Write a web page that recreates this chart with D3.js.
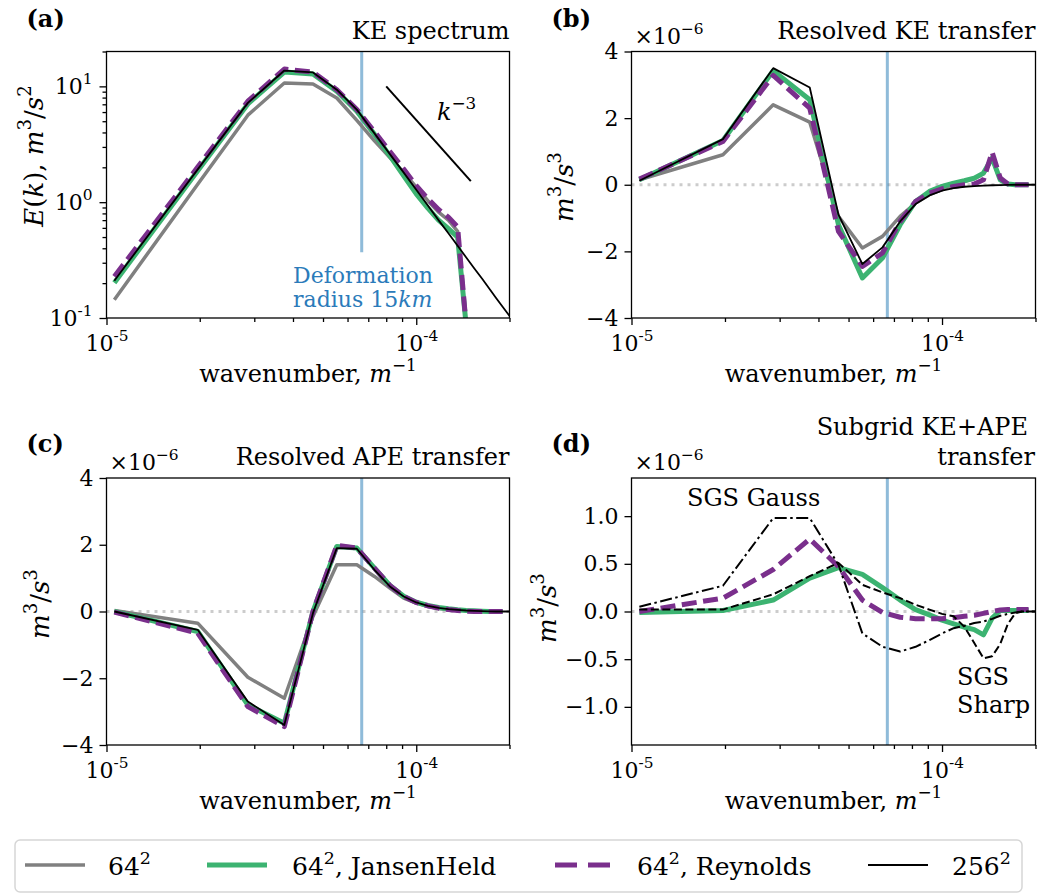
<!DOCTYPE html>
<html>
<head>
<meta charset="utf-8">
<script src="https://cdn.jsdelivr.net/npm/d3@7/dist/d3.min.js"></script>
<style>
  body { margin: 0; background: #fff; }
  svg, svg text { font-family: 'DejaVu Serif'; }
</style>
</head>
<body>
<svg id="fig" width="1042" height="894" font-family="DejaVu Serif"></svg>
<script>
// wavenumber bins, m^-1 (same bins for every panel)
var k = [1.06e-5, 1.97e-5, 2.86e-5, 3.75e-5, 4.64e-5, 5.54e-5, 6.43e-5, 7.33e-5, 8.22e-5, 9.11e-5,
         1.00e-4, 1.09e-4, 1.18e-4, 1.27e-4, 1.36e-4, 1.45e-4, 1.54e-4, 1.63e-4, 1.72e-4, 1.81e-4,
         1.90e-4, 1.99e-4, 2.08e-4];

// (a) KE spectrum, m^3/s^2
var keLow  = [0.144, 1.43, 5.64, 10.7, 10.5, 7.94, 5.08, 3.38, 2.43, 1.81, 1.35, 1.03, 0.82, 0.70, 0.56, 0.08, 0.001];
var keJH   = [0.202, 1.87, 7.06, 13.3, 12.8, 9.06, 6.10, 3.85, 2.51, 1.69, 1.18, 0.89, 0.70, 0.59, 0.50, 0.085, 0.001];
var keRey  = [0.228, 2.01, 7.44, 14.1, 13.3, 9.36, 6.31, 4.06, 2.74, 1.93, 1.39, 1.07, 0.865, 0.743, 0.61, 0.085, 0.001];
var keHigh = [0.21, 1.92, 7.2, 13.7, 13.2, 9.36, 6.3, 3.93, 2.6, 1.8, 1.28, 0.936, 0.70, 0.54, 0.42, 0.333,
              0.268, 0.219, 0.18, 0.149, 0.125, 0.106, 0.093];
// k^-3 reference segment
var slopeK = [8.0e-5, 1.5e-4];
var slopeE = [10, 1.52];
// deformation radius 15 km
var kDeform = 1 / 15000;

// (b) resolved KE transfer, 1e-6 m^3/s^3
var tkeLow  = [0.15, 0.9, 2.4, 1.88, -0.95, -1.9, -1.55, -0.95, -0.55, -0.3, -0.15, 0.02, 0.1, 0.18, 0.33, 0.78, 0.14, 0.02, 0, 0, 0];
var tkeJH   = [0.15, 1.33, 3.42, 2.55, -1.2, -2.8, -2.2, -1.2, -0.5, -0.2, -0.05, 0.05, 0.12, 0.2, 0.35, 0.8, 0.15, 0.02, 0, 0, 0];
var tkeRey  = [0.17, 1.3, 3.28, 2.3, -1.4, -2.45, -2.05, -1.1, -0.5, -0.25, -0.12, -0.05, 0.0, 0.02, 0.15, 0.98, 0.2, 0.02, 0, 0, 0];
var tkeHigh = [0.12, 1.37, 3.5, 2.92, -0.9, -2.38, -1.88, -1.1, -0.58, -0.32, -0.18, -0.1, -0.06, -0.04, -0.025,
               -0.015, -0.01, -0.005, 0, 0, 0, 0, 0];

// (c) resolved APE transfer, 1e-6 m^3/s^3
var tapeLow  = [0.03, -0.35, -1.97, -2.6, -0.15, 1.4, 1.4, 1.05, 0.7, 0.4, 0.25, 0.15, 0.09, 0.06, 0.04, 0.03, 0.02, 0.01, 0, 0, 0];
var tapeJH   = [0.0, -0.6, -2.8, -3.35, 0.0, 1.95, 1.9, 1.3, 0.78, 0.46, 0.28, 0.18, 0.12, 0.08, 0.05, 0.03, 0.02, 0.01, 0, 0, 0];
var tapeRey  = [-0.02, -0.65, -2.85, -3.45, 0.0, 1.98, 1.9, 1.3, 0.78, 0.45, 0.27, 0.17, 0.1, 0.06, 0.03, 0.01, 0, 0, 0, 0, 0];
var tapeHigh = [0.0, -0.55, -2.7, -3.4, -0.05, 1.9, 1.88, 1.25, 0.75, 0.45, 0.27, 0.17, 0.11, 0.07, 0.05,
                0.03, 0.02, 0.01, 0.005, 0, 0, 0, 0];

// (d) subgrid KE+APE transfer, 1e-6 m^3/s^3
var sgsJH    = [-0.01, 0.01, 0.12, 0.35, 0.46, 0.39, 0.25, 0.12, 0.02, -0.035, -0.09, -0.13, -0.165, -0.19, -0.245, -0.07, 0.01, 0.01, 0.01, 0.01, 0.01];
var sgsRey   = [0.0, 0.14, 0.44, 0.76, 0.47, 0.12, -0.01, -0.06, -0.075, -0.077, -0.075, -0.065, -0.05, -0.04, -0.02, 0.0, 0.015, 0.02, 0.02, 0.02, 0.02];
var sgsGauss = [0.05, 0.27, 0.98, 0.98, 0.49, -0.23, -0.37, -0.42, -0.37, -0.3, -0.23, -0.175, -0.15, -0.12, -0.105,
                -0.077, -0.045, -0.025, -0.01, 0, 0, 0, 0];
var sgsSharp = [0.02, 0.02, 0.18, 0.37, 0.51, 0.28, 0.2, 0.14, 0.07, 0.02, -0.025, -0.05, -0.16, -0.33, -0.49,
                -0.47, -0.34, -0.13, -0.02, 0, 0, 0, 0];

// tick values
var xMajor = [1e-5, 1e-4];
var xMinor = [2e-5, 3e-5, 4e-5, 5e-5, 6e-5, 7e-5, 8e-5, 9e-5, 2e-4];
var keMajor = [0.1, 1, 10];
var keMinor = [0.2, 0.3, 0.4, 0.5, 0.6, 0.7, 0.8, 0.9, 2, 3, 4, 5, 6, 7, 8, 9, 20];
var transferTicks = [-4, -2, 0, 2, 4];
var sgsTicks = [-1.0, -0.5, 0.0, 0.5, 1.0];

// legend
var legendLabels = ['64', '64', '64', '256'];
var legendSuffix = ['', ', JansenHeld', ', Reynolds', ''];

// line styles
var st = {
    low:   { color: '#808080', width: 3.5 },
    jh:    { color: '#3cb371', width: 5 },
    rey:   { color: '#7a2f8c', width: 5, dash: '15,6.5' },
    high:  { color: '#000000', width: 1.8 },
    gauss: { color: '#000000', width: 2, dash: '12,3.5,2.5,3.5' },
    sharp: { color: '#000000', width: 2, dash: '8,3.5' }
};

var FONT = 'DejaVu Serif';
var svg = d3.select('#fig');
var FS_TICK = 22, FS_LAB = 24, FS_YLAB = 26;

// text with italic / superscript pieces
function rich(sel, parts, fs) {
    var up = 0;
    sel.attr('font-family', FONT);
    parts.forEach(function(p) {
        var lvl = p.sup ? 1 : 0;
        var ts = sel.append('tspan').text(p.t);
        if (lvl !== up) { ts.attr('dy', (lvl ? -0.45 : 0.45) * fs); up = lvl; }
        if (p.sup) ts.attr('font-size', 0.7 * fs);
        if (p.i) ts.attr('font-style', 'italic');
    });
}

function styleAxis(g) {
    g.select('.domain').remove();
    g.attr('font-family', FONT).attr('font-size', FS_TICK);
    g.selectAll('.tick line').attr('stroke', '#000').attr('stroke-width', 1.3);
    g.selectAll('.tick text').attr('fill', '#000').attr('font-family', FONT);
}

function logText(g) {
    g.selectAll('.tick text').each(function(d) {
        var t = d3.select(this);
        t.text(null);
        rich(t, [{ t: '10' }, { t: String(Math.round(Math.log10(d))), sup: true }], FS_TICK);
    });
}

function label(g, x, y, size) {
    return g.append('text').attr('x', x).attr('y', y)
        .attr('font-size', size).attr('font-family', FONT);
}

function panel(p) {
    var x = d3.scaleLog().domain([1e-5, 2e-4]).range([p.left, p.right]);
    var y = p.log ? d3.scaleLog().domain(p.yDomain).range([p.bottom, p.top])
                  : d3.scaleLinear().domain(p.yDomain).range([p.bottom, p.top]);
    var g = svg.append('g');

    svg.append('clipPath').attr('id', 'clip' + p.id)
        .append('rect')
        .attr('x', p.left).attr('y', p.top)
        .attr('width', p.right - p.left).attr('height', p.bottom - p.top);

    var plot = g.append('g').attr('clip-path', 'url(#clip' + p.id + ')');

    if (!p.log) {
        plot.append('line')
            .attr('x1', p.left).attr('x2', p.right)
            .attr('y1', y(0)).attr('y2', y(0))
            .attr('stroke', '#cccccc').attr('stroke-width', 3)
            .attr('stroke-dasharray', '3,5');
    }

    // deformation radius
    plot.append('line')
        .attr('x1', x(kDeform)).attr('x2', x(kDeform))
        .attr('y1', p.vlineBottom != null ? y(p.vlineBottom) : p.bottom)
        .attr('y2', p.top)
        .attr('stroke', '#1f77b4').attr('stroke-opacity', 0.5).attr('stroke-width', 3);

    var line = d3.line()
        .defined(function(d) { return d[1] != null; })
        .x(function(d) { return x(d[0]); })
        .y(function(d) { return y(d[1]); });

    p.series.forEach(function(s) {
        var pts = s.v.map(function(v, i) { return [k[i], v]; });
        plot.append('path')
            .attr('d', line(pts))
            .attr('fill', 'none')
            .attr('stroke', s.s.color)
            .attr('stroke-width', s.s.width)
            .attr('stroke-dasharray', s.s.dash || null)
            .attr('stroke-linejoin', 'round');
    });

    if (p.extra) p.extra(plot, x, y);

    // frame
    g.append('rect')
        .attr('x', p.left).attr('y', p.top)
        .attr('width', p.right - p.left).attr('height', p.bottom - p.top)
        .attr('fill', 'none').attr('stroke', '#000').attr('stroke-width', 1.3);

    // x axis
    g.append('g').attr('transform', 'translate(0,' + p.bottom + ')')
        .call(d3.axisBottom(x).tickValues(xMajor).tickSize(7).tickPadding(10))
        .call(styleAxis).call(logText);
    g.append('g').attr('transform', 'translate(0,' + p.bottom + ')')
        .call(d3.axisBottom(x).tickValues(xMinor).tickSize(4).tickFormat(''))
        .call(styleAxis);

    // y axis
    if (p.log) {
        g.append('g').attr('transform', 'translate(' + p.left + ',0)')
            .call(d3.axisLeft(y).tickValues(keMajor).tickSize(7).tickPadding(7))
            .call(styleAxis).call(logText);
        g.append('g').attr('transform', 'translate(' + p.left + ',0)')
            .call(d3.axisLeft(y).tickValues(keMinor).tickSize(4).tickFormat(''))
            .call(styleAxis);
    } else {
        g.append('g').attr('transform', 'translate(' + p.left + ',0)')
            .call(d3.axisLeft(y).tickValues(p.yTicks).tickSize(7).tickPadding(6).tickFormat(d3.format(p.fmt)))
            .call(styleAxis);
        // offset text
        var off = label(g, p.left + 3, p.top - 8, FS_TICK);
        rich(off, [{ t: '×10' }, { t: '−6', sup: true }], FS_TICK);
    }

    // x label
    var xl = label(g, (p.left + p.right) / 2, p.bottom + 64, FS_LAB).attr('text-anchor', 'middle');
    rich(xl, [{ t: 'wavenumber, ' }, { t: 'm', i: true }, { t: '−1', sup: true }], FS_LAB);

    // y label
    var yl = label(g, 0, 0, FS_YLAB)
        .attr('transform', 'translate(' + p.ylabX + ',' + p.ylabY + ') rotate(-90)')
        .attr('text-anchor', 'middle');
    rich(yl, p.ylab, FS_YLAB);

    // panel letter
    label(g, p.left - 80, p.letterY, FS_LAB).attr('font-weight', 'bold').text(p.letter);

    // title
    p.title.forEach(function(t) {
        label(g, t.x, t.y, FS_LAB).attr('text-anchor', 'end').text(t.t);
    });
}

var m3s3 = [{ t: 'm', i: true }, { t: '3', sup: true }, { t: '/' }, { t: 's', i: true }, { t: '3', sup: true }];

panel({
    id: 'a', left: 106.5, right: 509.5, top: 51.5, bottom: 318, log: true, yDomain: [0.1, 20],
    vlineBottom: 0.37,
    series: [{ v: keLow, s: st.low }, { v: keJH, s: st.jh }, { v: keRey, s: st.rey }, { v: keHigh, s: st.high }],
    ylab: [{ t: 'E', i: true }, { t: '(' }, { t: 'k', i: true }, { t: '), ' }, { t: 'm', i: true }, { t: '3', sup: true },
           { t: '/' }, { t: 's', i: true }, { t: '2', sup: true }],
    ylabX: 43, ylabY: 156, letter: '(a)', letterY: 27,
    title: [{ t: 'KE spectrum', x: 509.5, y: 39 }],
    extra: function(plot, x, y) {
        plot.append('line')
            .attr('x1', x(slopeK[0])).attr('y1', y(slopeE[0]))
            .attr('x2', x(slopeK[1])).attr('y2', y(slopeE[1]))
            .attr('stroke', '#000').attr('stroke-width', 2);
        var t = label(plot, 437, 120, FS_LAB);
        rich(t, [{ t: 'k', i: true }, { t: '−3', sup: true }], FS_LAB);
        label(plot, 293, 283, 22).attr('fill', '#2b7bba').text('Deformation');
        var r = label(plot, 293, 307, 22).attr('fill', '#2b7bba');
        rich(r, [{ t: 'radius 15' }, { t: 'km', i: true }], 22);
    }
});

panel({
    id: 'b', left: 631.5, right: 1035.5, top: 51.5, bottom: 318, log: false, yDomain: [-4, 4],
    yTicks: transferTicks, fmt: 'd',
    series: [{ v: tkeLow, s: st.low }, { v: tkeJH, s: st.jh }, { v: tkeRey, s: st.rey }, { v: tkeHigh, s: st.high }],
    ylab: m3s3, ylabX: 573, ylabY: 187, letter: '(b)', letterY: 27,
    title: [{ t: 'Resolved KE transfer', x: 1035.5, y: 39 }]
});

panel({
    id: 'c', left: 106.5, right: 509.5, top: 478, bottom: 745, log: false, yDomain: [-4, 4],
    yTicks: transferTicks, fmt: 'd',
    series: [{ v: tapeLow, s: st.low }, { v: tapeJH, s: st.jh }, { v: tapeRey, s: st.rey }, { v: tapeHigh, s: st.high }],
    ylab: m3s3, ylabX: 49, ylabY: 604, letter: '(c)', letterY: 452,
    title: [{ t: 'Resolved APE transfer', x: 509.5, y: 465 }]
});

panel({
    id: 'd', left: 631.5, right: 1035.5, top: 478, bottom: 745, log: false, yDomain: [-1.4, 1.4],
    yTicks: sgsTicks, fmt: '.1f',
    series: [{ v: sgsJH, s: st.jh }, { v: sgsRey, s: st.rey }, { v: sgsGauss, s: st.gauss }, { v: sgsSharp, s: st.sharp }],
    ylab: m3s3, ylabX: 556, ylabY: 608, letter: '(d)', letterY: 452,
    title: [{ t: 'Subgrid KE+APE', x: 1028, y: 435 }, { t: 'transfer', x: 1035, y: 465 }],
    extra: function(plot) {
        label(plot, 687, 506, FS_LAB).text('SGS Gauss');
        label(plot, 957, 685, FS_LAB).text('SGS');
        label(plot, 957, 713, FS_LAB).text('Sharp');
    }
});

// legend
var leg = svg.append('g');
leg.append('rect').attr('x', 15).attr('y', 840).attr('width', 1007).attr('height', 52).attr('rx', 5)
    .attr('fill', '#fff').attr('stroke', '#d6d6d6').attr('stroke-width', 1.5);
var legStyles = [st.low, st.jh, { color: st.rey.color, width: 5, dash: '22,11' }, st.high];
var legLineX = [25, 207, 555, 868];
var legTextX = [108, 292, 637, 952];
legStyles.forEach(function(s, i) {
    leg.append('line')
        .attr('x1', legLineX[i]).attr('x2', legLineX[i] + 60)
        .attr('y1', 865).attr('y2', 865)
        .attr('stroke', s.color).attr('stroke-width', s.width)
        .attr('stroke-dasharray', s.dash || null);
    var t = label(leg, legTextX[i], 875, 25);
    rich(t, [{ t: legendLabels[i] }, { t: '2', sup: true }, { t: legendSuffix[i] }], 25);
});
</script>
</body>
</html>
